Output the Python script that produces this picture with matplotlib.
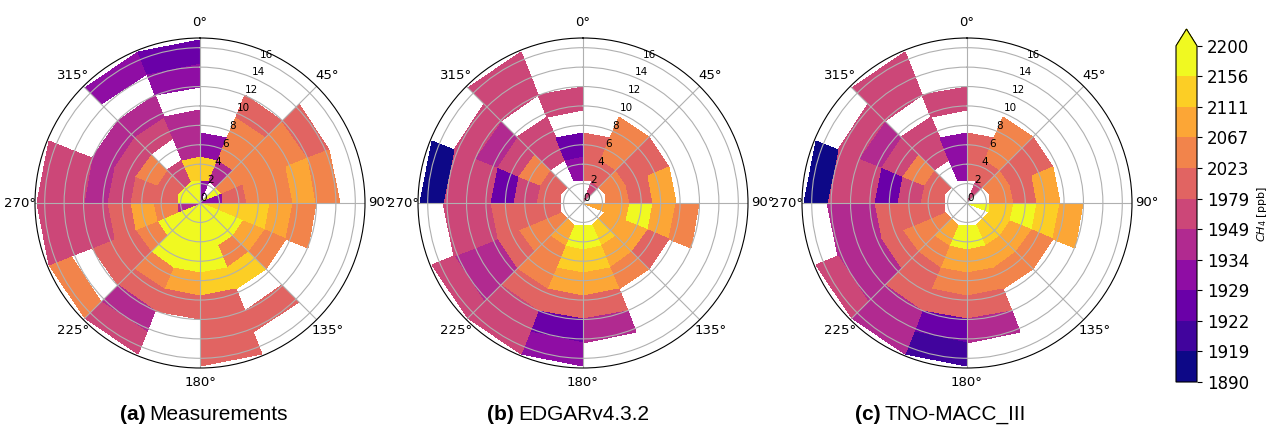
import numpy as np
import matplotlib
matplotlib.use("Agg")
import matplotlib.pyplot as plt
from matplotlib.colors import BoundaryNorm
from matplotlib.cm import ScalarMappable

nan = np.nan

# CH4 colour classes (ppb)
levels = [1890, 1919, 1922, 1929, 1934, 1949, 1979, 2023, 2067, 2111, 2156, 2200]

# wind direction sectors (deg, clockwise from N) and wind speed bin edges
dir_edges = np.arange(0, 360.1, 22.5)
speed_edges = np.arange(0, 17, 2.4)

# one row per direction sector (0-22.5, 22.5-45, ...), one value per speed bin
meas = [
    [1931, 2133, 1931, nan, nan, nan, nan],
    [nan, 1941, 2045, 2045, 2001, nan, nan],
    [2180, 2045, 2045, 2045, 2045, 2001, nan],
    [1931, 2001, 2045, 2045, 2089, 2045, nan],
    [2133, 2133, 2133, 2089, 2045, nan, nan],
    [2180, 2180, 2089, 2045, nan, nan, nan],
    [2180, 2180, 2045, 2133, nan, 2001, nan],
    [2180, 2180, 2180, 2133, 2001, 2001, 2001],
    [2180, 2180, 2180, 2089, 2001, nan, nan],
    [2180, 2180, 2180, 2045, 2001, 1941, 1964],
    [2180, 2180, 2045, 2001, 2001, nan, 2045],
    [1941, 2045, 2089, 2001, 1964, 1964, 1964],
    [2180, 2001, 2001, 1964, 1941, 1964, 1964],
    [2180, 2001, 2045, 1964, 1941, nan, nan],
    [2180, 1964, nan, 1964, 1941, nan, 1931],
    [2180, 2133, 1941, 1941, nan, 1931, 1925],
]

edgar = [
    [nan, 2001, 2001, nan, nan, nan, nan],
    [1964, 2001, 2045, 2045, nan, nan, nan],
    [nan, 2045, 2001, 2001, nan, nan, nan],
    [nan, 2045, 2001, 2089, nan, nan, nan],
    [2089, 2089, 2180, 2089, 2045, nan, nan],
    [nan, 2089, 2089, 2001, nan, nan, nan],
    [nan, 2133, 2089, 2045, nan, nan, nan],
    [nan, 2180, 2133, 2089, 2001, 1941, nan],
    [nan, 2180, 2133, 2089, 2001, 1925, 1931],
    [nan, 2089, 2045, 2045, 2001, 1964, 1964],
    [nan, 2045, 2045, 2001, 1941, 1941, 1964],
    [nan, 2001, 2001, 2001, 1964, 1964, nan],
    [nan, 2001, 1964, 1925, 1964, 1964, 1905],
    [nan, 2001, 2045, 1964, 1941, 1964, nan],
    [nan, nan, 1964, 1964, nan, 1964, 1964],
    [nan, 1931, 1925, nan, 1964, nan, nan],
]

tno = [
    [nan, 2001, 2001, nan, nan, nan, nan],
    [1964, 2001, 2045, 2045, nan, nan, nan],
    [nan, 2045, 2001, 2001, nan, nan, nan],
    [nan, 2045, 2001, 2089, nan, nan, nan],
    [2180, 2133, 2180, 2133, 2089, nan, nan],
    [nan, 2133, 2089, 2045, nan, nan, nan],
    [nan, 2133, 2089, 2045, nan, nan, nan],
    [nan, 2180, 2089, 2045, 2001, 1941, nan],
    [nan, 2180, 2089, 2045, 2001, 1925, 1920],
    [nan, 2089, 2045, 2001, 2001, 1941, 1941],
    [nan, 2045, 2045, 2001, 1941, 1941, 1964],
    [nan, 2001, 2001, 2001, 1941, 1941, nan],
    [nan, 2001, 1964, 1925, 1964, 1964, 1905],
    [nan, 2001, 2045, 1964, 1941, 1964, nan],
    [nan, nan, 1964, 1964, nan, 1964, 1964],
    [nan, 1931, 1931, nan, 1964, nan, nan],
]

titles = ["Measurements", "EDGARv4.3.2", "TNO-MACC_III"]
letters = ["(a)", "(b)", "(c)"]

cmap = plt.get_cmap("plasma", len(levels) - 1)
norm = BoundaryNorm(levels, len(levels) - 1)

fig = plt.figure(figsize=(12.77, 4.32), dpi=100)

W, H = 1277.0, 432.0
centers_x = [200, 583, 967]
cy, rad = 203, 165

theta, r = np.meshgrid(np.deg2rad(dir_edges), speed_edges)

for k, data in enumerate([meas, edgar, tno]):
    cx = centers_x[k]
    ax = fig.add_axes([(cx - rad) / W, (H - cy - rad) / H, 2 * rad / W, 2 * rad / H],
                      projection="polar")
    ax.set_theta_zero_location("N")
    ax.set_theta_direction(-1)
    vals = np.ma.masked_invalid(np.array(data, dtype=float).T)
    ax.pcolormesh(theta, r, vals, cmap=cmap, norm=norm, shading="flat")
    ax.set_ylim(0, 17)
    ax.set_yticks(np.arange(0, 17, 2))
    ax.tick_params(axis="y", labelsize=7.5)
    ax.tick_params(axis="x", labelsize=9.5, pad=0.3)
    ax.grid(True, color="#b0b0b0", linewidth=0.8)

# panel captions
fig.canvas.draw()
renderer = fig.canvas.get_renderer()
caption_x = [120, 487, 855]
cap_font = "Liberation Sans"
for k in range(3):
    t = fig.text(caption_x[k] / W, 1 - 414 / H, letters[k], family=cap_font,
                 fontsize=15, fontweight="bold", ha="left", va="center")
    bb = t.get_window_extent(renderer)
    fig.text((bb.x1 + 4) / W, 1 - 414 / H, titles[k], family=cap_font,
             fontsize=15, ha="left", va="center")

cax = fig.add_axes([1176 / W, (H - 382) / H, 21 / W, 353 / H])
cb = fig.colorbar(ScalarMappable(norm=norm, cmap=cmap), cax=cax, extend="max",
                  ticks=levels, spacing="uniform")
cb.ax.tick_params(labelsize=12)
cb.set_label("$CH_4$ [ppb]", fontsize=8)

fig.savefig("out.png", dpi=100)
